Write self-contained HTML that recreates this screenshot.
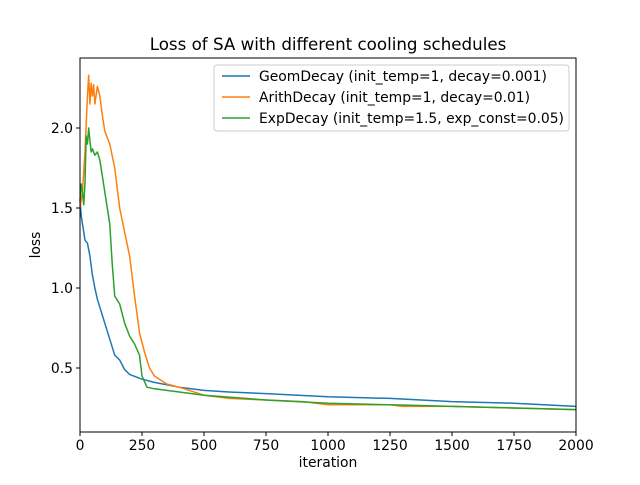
<!DOCTYPE html>
<html><head><meta charset="utf-8"><style>
body{margin:0;background:#fff}
svg{font-family:"DejaVu Sans","Liberation Sans",sans-serif}
</style></head><body>
<svg id="chart" width="640" height="480" viewBox="0 0 640 480">
<rect width="640" height="480" fill="#fff"/>
<text x="328" y="50" font-size="16.7" text-anchor="middle">Loss of SA with different cooling schedules</text>
<g id="lines"></g>
<rect x="80" y="58" width="496" height="374" fill="none" stroke="#000" stroke-width="1"/>
<g id="xt"></g><g id="yt"></g>
<text x="328" y="467" font-size="13.9" text-anchor="middle">iteration</text>
<text x="40" y="245" font-size="13.9" text-anchor="middle" transform="rotate(-90 40 245)">loss</text>
<g>
<rect x="214" y="65" width="355" height="66" fill="#fff" fill-opacity="0.8" stroke="#ccc" rx="3"/>
<g id="leg"></g>
</g>
</svg>
<script>
const xTicks=[0,250,500,750,1000,1250,1500,1750,2000];
const yTicks=[0.5,1.0,1.5,2.0];
const seriesNames=["GeomDecay (init_temp=1, decay=0.001)","ArithDecay (init_temp=1, decay=0.01)","ExpDecay (init_temp=1.5, exp_const=0.05)"];
const geomIter=[0,5,10,20,30,40,50,60,70,80,100,120,140,160,180,200,250,300,400,500,600,750,1000,1250,1500,1750,2000];
const geomLoss=[1.55,1.45,1.4,1.3,1.28,1.2,1.08,1.0,0.93,0.88,0.78,0.68,0.58,0.55,0.49,0.46,0.43,0.41,0.38,0.36,0.35,0.34,0.32,0.31,0.29,0.28,0.26];
const arithIter=[0,10,20,30,35,40,45,50,55,60,70,80,90,100,120,140,160,180,200,220,240,260,280,300,350,400,500,600,750,900,1000,1250,1300,1500,1750,2000];
const arithLoss=[1.5,1.6,1.85,2.2,2.33,2.15,2.28,2.2,2.27,2.15,2.26,2.2,2.08,1.98,1.9,1.75,1.5,1.35,1.2,0.95,0.72,0.6,0.5,0.45,0.4,0.38,0.33,0.31,0.3,0.29,0.27,0.27,0.26,0.26,0.25,0.24];
const expIter=[0,5,10,15,20,25,30,35,40,45,50,60,70,80,100,120,130,140,160,180,200,220,240,250,270,300,400,500,750,1000,1250,1500,1750,2000];
const expLoss=[1.55,1.65,1.6,1.52,1.65,1.95,1.9,2.0,1.92,1.85,1.87,1.83,1.85,1.8,1.6,1.4,1.15,0.95,0.9,0.78,0.7,0.65,0.58,0.45,0.38,0.37,0.35,0.33,0.3,0.28,0.27,0.26,0.25,0.24];
const colors=["#1f77b4","#ff7f0e","#2ca02c"];
const X=v=>80+v/2000*496, Y=v=>368-(v-0.5)*160;
const NS="http://www.w3.org/2000/svg";
function mk(t,a,p){const e=document.createElementNS(NS,t);for(const k in a)e.setAttribute(k,a[k]);p.appendChild(e);return e;}
const lines=document.getElementById('lines');
const data=[[geomIter,geomLoss],[arithIter,arithLoss],[expIter,expLoss]];
const names=["geom-decay-line","arith-decay-line","exp-decay-line"];
data.forEach((d,i)=>{
 const p=mk('polyline',{points:d[0].map((x,j)=>X(x)+','+Y(d[1][j])).join(' '),fill:'none',stroke:colors[i],'stroke-width':1.5,'stroke-linejoin':'round'},lines);
 
 
});
const xt=document.getElementById('xt');
xTicks.forEach(v=>{mk('line',{x1:X(v),x2:X(v),y1:432,y2:436,stroke:'#000'},xt);
 const t=mk('text',{x:X(v),y:450,'font-size':13.9,'text-anchor':'middle'},xt);t.textContent=v;
 
 });
const yt=document.getElementById('yt');
yTicks.forEach(v=>{mk('line',{x1:76,x2:80,y1:Y(v),y2:Y(v),stroke:'#000'},yt);
 const t=mk('text',{x:73,y:Y(v)+5,'font-size':13.9,'text-anchor':'end'},yt);t.textContent=v.toFixed(1);
 
 });
const leg=document.getElementById('leg');
seriesNames.forEach((n,i)=>{const y=76+i*21;
 mk('line',{x1:222,x2:250,y1:y,y2:y,stroke:colors[i],'stroke-width':1.5},leg);
 const t=mk('text',{x:259,y:y+5,'font-size':13.9},leg);t.textContent=n;
 
 });
</script>
</body></html>
